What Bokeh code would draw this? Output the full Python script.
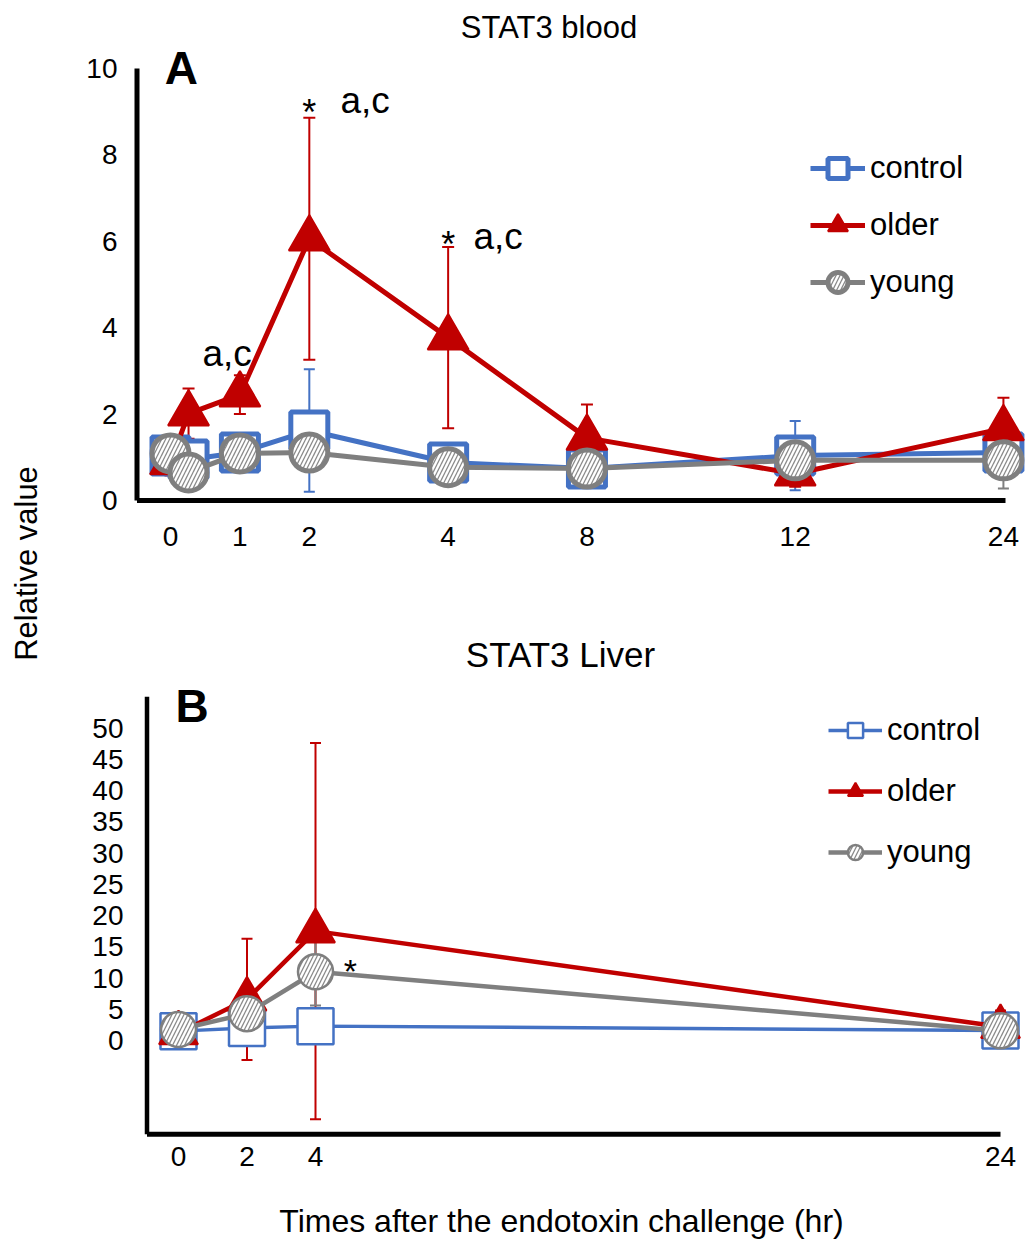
import math
from bokeh.plotting import figure
from bokeh.layouts import row, column
from bokeh.models import (ColumnDataSource, Whisker, TeeHead, Label, Legend, LegendItem,
                          FixedTicker, Range1d, Arrow)
from bokeh.embed import file_html
from bokeh.resources import INLINE

FONT = "Liberation Sans"
BLUE = "#4472C4"
RED = "#C00000"
GRAY = "#7F7F7F"

# ---------------- Panel A: STAT3 blood ----------------
a_tick_labels = ["0", "1", "2", "4", "8", "12", "24"]
a_tick_pos = [0, 1, 2, 4, 6, 9, 12]
a_x = [0, 0.26, 1, 2, 4, 6, 9, 12]
a_control = [1.04, 0.95, 1.11, 1.62, 0.88, 0.74, 1.04, 1.11]
a_control_err = [0.25, 0.2, 0.2, 1.42, 0.2, 0.15, 0.8, 0.3]
a_older = [0.88, 2.01, 2.45, 6.06, 3.77, 1.45, 0.62, 1.67]
a_older_err = [0.3, 0.58, 0.45, 2.8, 2.1, 0.77, 0.3, 0.71]
a_young = [1.09, 0.65, 1.09, 1.11, 0.77, 0.74, 0.93, 0.93]
a_young_err = [0.2, 0.2, 0.2, 0.2, 0.2, 0.2, 0.2, 0.65]
a_yticks = [0, 2, 4, 6, 8, 10]

# ---------------- Panel B: STAT3 Liver ----------------
b_x = [0, 2, 4, 24]
b_control = [1.5, 2.0, 2.3, 1.6]
b_control_err = [0.5, 1.0, 1.5, 0.5]
b_older = [1.2, 6.6, 17.5, 2.2]
b_older_err = [0.8, 9.7, 30.1, 2.6]
b_young = [1.75, 4.3, 11.0, 1.55]
b_young_err = [0.5, 1.5, 5.4, 0.6]
b_yticks = list(range(0, 51, 5))
b_axis_span = (-15, 55)


def style_common(p):
    p.xgrid.visible = False
    p.ygrid.visible = False
    p.outline_line_color = None
    p.background_fill_color = "white"
    p.border_fill_color = "white"


def add_series(p, xs, ys, errs, color, marker, size, lw, mlw, ewidth, cap, hatch=False, fill="white"):
    up = [y + e for y, e in zip(ys, errs)]
    lo = [y - e for y, e in zip(ys, errs)]
    esrc = ColumnDataSource(dict(x=xs, upper=up, lower=lo))
    w = Whisker(base="x", upper="upper", lower="lower", source=esrc, dimension="height",
                line_color=color, line_width=ewidth, level="underlay",
                upper_head=TeeHead(size=cap, line_color=color, line_width=ewidth),
                lower_head=TeeHead(size=cap, line_color=color, line_width=ewidth))
    p.add_layout(w)
    src = ColumnDataSource(dict(x=xs, y=ys))
    lr = p.line("x", "y", source=src, line_color=color, line_width=lw)
    kw = dict(marker=marker, size=size, line_color=color, line_width=mlw, fill_color=fill)
    if hatch:
        kw.update(hatch_pattern="/", hatch_color="#8a8a8a", hatch_scale=8, hatch_weight=1.3)
    sr = p.scatter("x", "y", source=src, **kw)
    return [lr, sr]


def txt(p, x, y, text, size, bold=False, align="left", baseline="middle", angle=0):
    p.add_layout(Label(x=x, y=y, text=text, text_font=FONT, text_font_size=size,
                       text_font_style="bold" if bold else "normal", text_color="black",
                       text_align=align, text_baseline=baseline, angle=angle))


def axis_style(p, size):
    for ax in (p.xaxis[0], p.yaxis[0]):
        ax.major_tick_line_color = None
        ax.minor_tick_line_color = None
        ax.major_tick_out = 0
        ax.major_tick_in = 0
        ax.axis_line_color = None
        ax.major_label_text_font = FONT
        ax.major_label_text_font_size = size
        ax.major_label_text_color = "black"


def axis_lines(p, x0, y0, x1, y1, lw_left, lw_bottom):
    # left axis line and bottom axis line (Excel style, bottom line stops at last category)
    p.add_layout(Arrow(end=None, x_start=x0, y_start=y0, x_end=x0, y_end=y1,
                       line_color="black", line_width=lw_left))
    p.add_layout(Arrow(end=None, x_start=x0, y_start=y0, x_end=x1, y_end=y0,
                       line_color="black", line_width=lw_bottom))


# ---------- Figure A ----------
A_PX = 69.41      # px per category unit
A_PY = 43.2       # px per value unit
pa = figure(width=980, height=620,
            x_range=Range1d(-42 / A_PX, 860 / A_PX),
            y_range=Range1d(-6 / A_PY, 500 / A_PY),
            min_border_left=78, min_border_right=0, min_border_top=0, min_border_bottom=114,
            toolbar_location=None, output_backend="svg")
style_common(pa)

ra_c = add_series(pa, a_x, a_control, a_control_err, BLUE, "square", 37, 5, 5, 2, 11)
ra_o = add_series(pa, a_x, a_older, a_older_err, RED, "triangle", 41, 5, 2, 2, 12, fill=RED)
ra_y = add_series(pa, a_x, a_young, a_young_err, GRAY, "circle", 37, 5, 5, 2, 11, hatch=True)

pa.yaxis.ticker = FixedTicker(ticks=a_yticks, minor_ticks=[])
pa.xaxis.ticker = FixedTicker(ticks=a_tick_pos, minor_ticks=[])
pa.xaxis.major_label_overrides = {pos: lab for pos, lab in zip(a_tick_pos, a_tick_labels)}
axis_style(pa, "28px")
pa.yaxis.major_label_standoff = 11
pa.xaxis.major_label_standoff = 20
axis_lines(pa, -33.5 / A_PX, a_yticks[0], a_tick_pos[-1] + 0.03, a_yticks[-1], 5, 5)

leg_a = Legend(items=[LegendItem(label="control", renderers=ra_c),
                      LegendItem(label="older", renderers=ra_o),
                      LegendItem(label="young", renderers=ra_y)],
               location=(682, 199), glyph_width=55, glyph_height=50, spacing=7,
               padding=0, margin=0, label_standoff=5, border_line_color=None,
               background_fill_alpha=0, label_text_font=FONT, label_text_font_size="31px",
               label_text_color="black")
pa.add_layout(leg_a)

txt(pa, 5.453, 10.956, "STAT3 blood", "31px", align="center")
txt(pa, 0.158, 10.01, "A", "46px", bold=True, align="center")
txt(pa, a_x[3], 8.97, "*", "36px", align="center")
txt(pa, 2.449, 9.27, "a,c", "37px")
txt(pa, a_x[4], 5.92, "*", "36px", align="center")
txt(pa, 4.365, 6.12, "a,c", "37px")
txt(pa, 0.461, 3.41, "a,c", "37px")

# ---------- Figure B ----------
B_PX = 34.25
B_PY = 6.25
pb = figure(width=980, height=563,
            x_range=Range1d(-50 / B_PX, 852 / B_PX),
            y_range=Range1d(-98 / B_PY, 420 / B_PY),
            min_border_left=78, min_border_right=0, min_border_top=0, min_border_bottom=45,
            toolbar_location=None, output_backend="svg")
style_common(pb)

rb_c = add_series(pb, b_x, b_control, b_control_err, BLUE, "square", 36, 3.5, 2.5, 2, 11)
rb_o = add_series(pb, b_x, b_older, b_older_err, RED, "triangle", 39, 4.5, 2, 2, 11, fill=RED)
rb_y = add_series(pb, b_x, b_young, b_young_err, GRAY, "circle", 35, 4.5, 2.5, 2, 11, hatch=True)

pb.yaxis.ticker = FixedTicker(ticks=b_yticks, minor_ticks=[])
pb.xaxis.ticker = FixedTicker(ticks=b_x, minor_ticks=[])
axis_style(pb, "28px")
pb.yaxis.major_label_standoff = 5
pb.xaxis.major_label_standoff = 8
axis_lines(pb, -31.5 / B_PX, b_axis_span[0], b_x[-1], b_axis_span[1], 4.5, 5)

leg_b = Legend(items=[LegendItem(label="control", renderers=rb_c),
                      LegendItem(label="older", renderers=rb_o),
                      LegendItem(label="young", renderers=rb_y)],
               location=(700, 267), glyph_width=54, glyph_height=38, spacing=23,
               padding=0, margin=0, label_standoff=5, border_line_color=None,
               background_fill_alpha=0, label_text_font=FONT, label_text_font_size="31px",
               label_text_color="black")
pb.add_layout(leg_b)

txt(pb, 11.153, 61.76, "STAT3 Liver", "35px", align="center")
txt(pb, 0.394, 53.6, "B", "46px", bold=True, align="center")
txt(pb, 5.02, 11.15, "*", "34px", align="center")

# ---------- x-axis title strip ----------
px = figure(width=980, height=59, x_range=Range1d(128, 1030), y_range=Range1d(0, 59),
            min_border_left=78, min_border_right=0, min_border_top=0, min_border_bottom=0,
            x_axis_location=None, y_axis_location=None,
            toolbar_location=None, output_backend="svg")
style_common(px)
txt(px, 561, 22, "Times after the endotoxin challenge (hr)", "32px", align="center")

# ---------- shared y label ----------
pl = figure(width=50, height=1242, x_range=Range1d(0, 50), y_range=Range1d(0, 1242),
            min_border_left=0, min_border_right=0, min_border_top=0, min_border_bottom=0,
            x_axis_location=None, y_axis_location=None,
            toolbar_location=None, output_backend="svg")
style_common(pl)
txt(pl, 26, 1242 - 563, "Relative value", "31px", align="center", angle=math.pi / 2)

layout = row(pl, column(pa, pb, px))
open("out.html", "w").write(file_html(layout, INLINE))
